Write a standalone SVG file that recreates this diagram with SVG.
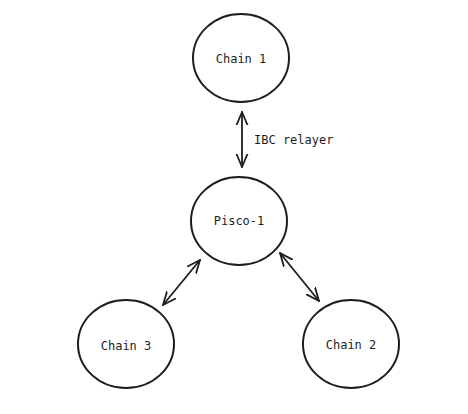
<svg xmlns="http://www.w3.org/2000/svg" width="468" height="414" viewBox="0 0 468 414">
<style>
.node{fill:none;stroke:#1e1e1e;stroke-width:2}
.lbl{font-family:"DejaVu Sans Mono","Liberation Mono",monospace;font-size:12px;fill:#1e1e1e;text-anchor:middle;dominant-baseline:central}
.edge{fill:none;stroke:#1e1e1e;stroke-width:1.8;stroke-linecap:round;marker-start:url(#ah);marker-end:url(#ah)}
</style>
<defs>
<marker id="ah" viewBox="0 0 14 14" refX="13" refY="7" markerWidth="14" markerHeight="14" markerUnits="userSpaceOnUse" orient="auto-start-reverse">
<path d="M0,1.5 L13,7 L0,12.5" fill="none" stroke="#1e1e1e" stroke-width="1.8" stroke-linecap="round" stroke-linejoin="round"/>
</marker>
</defs>
<rect width="468" height="414" fill="#ffffff"/>
<g id="chain1"><ellipse class="node" cx="241" cy="58" rx="48" ry="44"/><text class="lbl" x="241" y="59">Chain 1</text></g>
<g id="pisco1"><ellipse class="node" cx="239" cy="221" rx="48" ry="44"/><text class="lbl" x="239" y="221">Pisco-1</text></g>
<g id="chain3"><ellipse class="node" cx="126" cy="344" rx="48" ry="44"/><text class="lbl" x="126" y="346">Chain 3</text></g>
<g id="chain2"><ellipse class="node" cx="351" cy="344" rx="48" ry="44"/><text class="lbl" x="351" y="345">Chain 2</text></g>
<g id="connectors">
<line class="edge" x1="242" y1="112" x2="242" y2="167"/>
<text x="254" y="140" style="font-family:'DejaVu Sans Mono','Liberation Mono',monospace;font-size:12px;fill:#1e1e1e;dominant-baseline:central">IBC relayer</text>
<line class="edge" x1="200" y1="260" x2="163" y2="305"/>
<line class="edge" x1="280" y1="253" x2="319" y2="301"/>
</g>
</svg>
